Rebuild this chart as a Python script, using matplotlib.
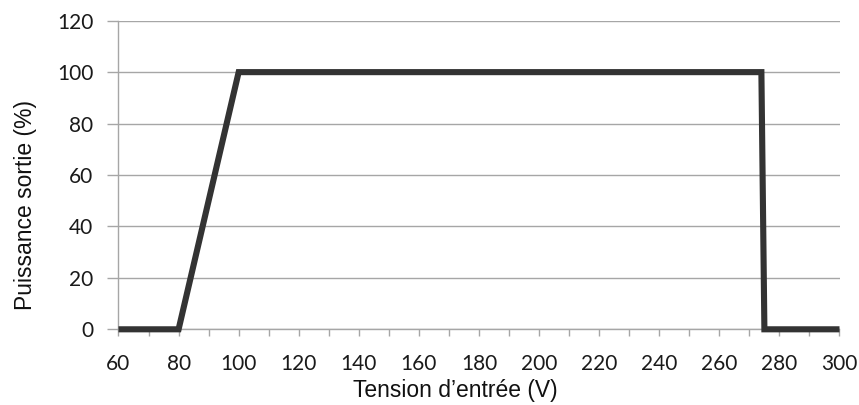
import matplotlib
matplotlib.use("Agg")
import matplotlib.pyplot as plt
from matplotlib.ticker import MultipleLocator

# Data
tension = [60, 80, 100, 274, 275, 300]
puissance = [0, 0, 100, 100, 0, 0]
x_ticks = [60, 80, 100, 120, 140, 160, 180, 200, 220, 240, 260, 280, 300]
y_ticks = [0, 20, 40, 60, 80, 100, 120]
x_label = "Tension d\u2019entrée (V)"
y_label = "Puissance sortie (%)"

plt.rcParams["font.family"] = ["Lato", "DejaVu Sans"]

W, H = 859, 405
fig = plt.figure(figsize=(W / 100, H / 100), dpi=100)
left, right, top, bottom = 118.5, 839.5, 20.7, 329.3
ax = fig.add_axes([left / W, 1 - bottom / H, (right - left) / W, (bottom - top) / H])

grid_c = "#a6a6a6"
ax.plot(tension, puissance, color="#333333", lw=4.4, solid_joinstyle="miter",
        solid_capstyle="butt", zorder=3, clip_on=False)

ax.set_xlim(60, 300)
ax.set_ylim(0, 120)
ax.set_xticks(x_ticks)
ax.xaxis.set_minor_locator(MultipleLocator(10))
ax.set_yticks(y_ticks)
ax.yaxis.grid(True, color=grid_c, lw=1.0)
ax.set_axisbelow(True)

for s in ["top", "right"]:
    ax.spines[s].set_visible(False)
for s in ["left", "bottom"]:
    ax.spines[s].set_color(grid_c)
    ax.spines[s].set_linewidth(1.0)

ax.tick_params(axis="x", which="both", direction="out", length=5, width=1, color=grid_c,
               pad=12.5, labelsize=15, labelcolor="#1a1a1a")
ax.tick_params(axis="y", which="major", direction="out", length=8, width=1, color=grid_c,
               pad=10, labelsize=15, labelcolor="#1a1a1a")

ax.set_xlabel(x_label, fontfamily="Liberation Sans", fontsize=16.5, color="#111111")
ax.set_ylabel(y_label, fontfamily="Liberation Sans", fontsize=16.5, color="#111111")
ax.xaxis.set_label_coords((455 - left) / (right - left), -(391 - bottom) / (bottom - top), transform=ax.transAxes)
ax.yaxis.set_label_coords(-(left - 26) / (right - left), (bottom - 205) / (bottom - top), transform=ax.transAxes)
ax.xaxis.label.set_va("center")
ax.yaxis.label.set_va("center")

fig.savefig("out.png", dpi=100, facecolor="white")
